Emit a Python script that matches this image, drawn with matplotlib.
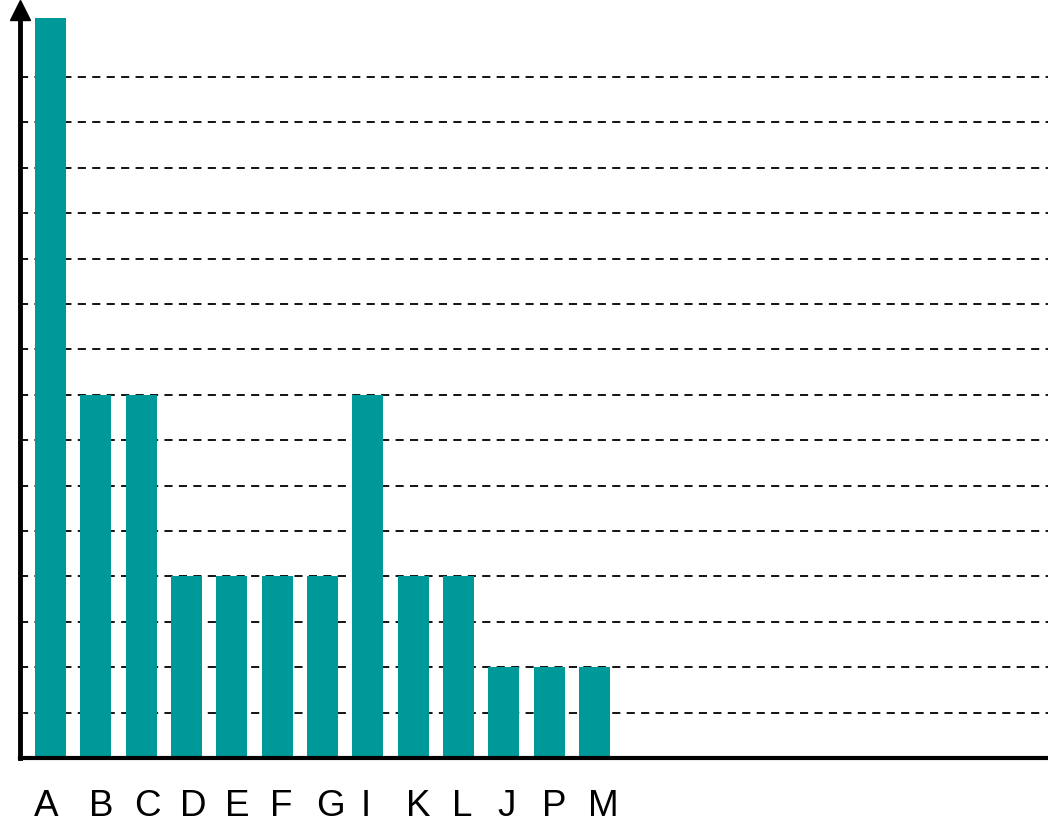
import matplotlib.pyplot as plt
import matplotlib.transforms as mtransforms

labels = ['A', 'B', 'C', 'D', 'E', 'F', 'G', 'I', 'K', 'L', 'J', 'P', 'M']
values = [16.3, 8, 8, 4, 4, 4, 4, 8, 4, 4, 2, 2, 2]
grid_levels = list(range(1, 16))


def main():
    fig = plt.figure(figsize=(10.48, 8.23), dpi=100)
    ax = fig.add_axes([20 / 1048, 65 / 823, 1 - 20 / 1048, (758 - 6) / 823])

    # dashed horizontal guides behind the bars
    for g in grid_levels:
        ax.axhline(g, color='black', lw=1.3, ls=(0, (4.5, 3.5)), zorder=1)

    ax.bar(range(len(labels)), values, width=0.685, color='#009999', zorder=2)

    ax.set_xlim(-0.67, 22.0)
    ax.set_ylim(0, (758 - 6) / 45.4)

    for s in ['top', 'right']:
        ax.spines[s].set_visible(False)
    ax.spines['left'].set_linewidth(3.5)
    ax.spines['bottom'].set_linewidth(3)
    ax.spines['left'].set_zorder(3)
    ax.spines['bottom'].set_zorder(3)

    # arrow head on the y axis
    ax.plot(0, 0.995, marker='^', markersize=14, color='black',
            transform=ax.transAxes, clip_on=False, zorder=4)

    ax.set_xticks([])
    ax.set_yticks([])

    # category labels sit a little right of the bar centres, like the original
    trans = mtransforms.blended_transform_factory(ax.transData, ax.transAxes)
    for i, lab in enumerate(labels):
        off = -0.36 if i == 0 else -0.15
        ax.text(i + off, -0.077, lab, transform=trans, ha='left', va='baseline',
                fontsize=26.5, family='Liberation Sans')

    plt.savefig('out.png', dpi=100)


if __name__ == '__main__':
    main()
